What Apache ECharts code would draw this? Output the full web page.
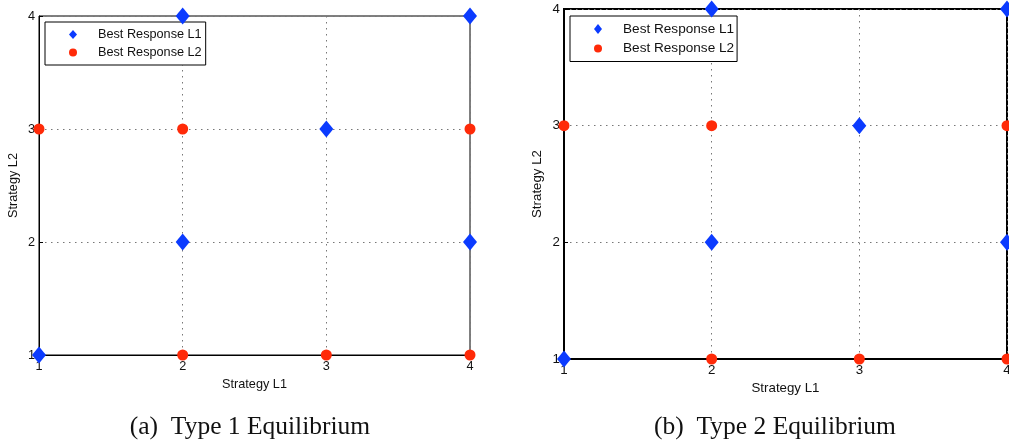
<!DOCTYPE html>
<html>
<head>
<meta charset="utf-8">
<script src="https://cdn.jsdelivr.net/npm/echarts@6/dist/echarts.min.js"></script>
<style>html,body{margin:0;padding:0;background:#fff}#c{width:1009px;height:446px}</style>
</head>
<body>
<div id="c"></div>
<script>
// Data
var tickValues = [1, 2, 3, 4];
var seriesNames = ['Best Response L1', 'Best Response L2'];
var captions = ['(a)  Type 1 Equilibrium', '(b)  Type 2 Equilibrium'];
var xAxisName = 'Strategy L1';
var yAxisName = 'Strategy L2';
// Type 1
var type1L1 = [[1, 1], [2, 4], [2, 2], [3, 3], [4, 4], [4, 2]];
var type1L2 = [[1, 3], [2, 3], [4, 3], [2, 1], [3, 1], [4, 1]];
// Type 2
var type2L1 = [[1, 1], [2, 4], [2, 2], [3, 3], [4, 4], [4, 2]];
var type2L2 = [[1, 3], [2, 3], [4, 3], [2, 1], [3, 1], [4, 1]];

var BLUE = '#0b3bff', RED = '#ff2a08';
var font = 'Liberation Sans, Arial, Helvetica, sans-serif';

function xAx(gi, gap, fs, lw) {
  return {
    gridIndex: gi, type: 'value', min: 1, max: 4, interval: 1,
    name: xAxisName, nameLocation: 'middle', nameGap: gap,
    nameTextStyle: {fontFamily: font, fontSize: fs, color: '#111'},
    axisLine: {show: true, lineStyle: {color: '#000', width: lw}},
    axisTick: {show: true, inside: true, length: 4, lineStyle: {color: '#000'}},
    axisLabel: {margin: 5, fontFamily: font, fontSize: fs, color: '#111',
      formatter: function (v) { return tickValues.indexOf(v) >= 0 ? String(v) : ''; }},
    splitLine: {show: true, lineStyle: {color: '#777', type: [1.5, 4.5], width: 1}}
  };
}
function yAx(gi, gap, fs, lw) {
  return {
    gridIndex: gi, type: 'value', min: 1, max: 4, interval: 1,
    name: yAxisName, nameLocation: 'middle', nameGap: gap, nameRotate: 90,
    nameTextStyle: {fontFamily: font, fontSize: fs, color: '#111'},
    axisLine: {show: true, lineStyle: {color: '#000', width: lw}},
    axisTick: {show: true, inside: true, length: 4, lineStyle: {color: '#000'}},
    axisLabel: {margin: 4, fontFamily: font, fontSize: fs, color: '#111',
      formatter: function (v) { return tickValues.indexOf(v) >= 0 ? String(v) : ''; }},
    splitLine: {show: true, lineStyle: {color: '#777', type: [1.5, 4.5], width: 1}}
  };
}
function legend(left, top, fs, ih, lh, gap, pad) {
  return {
    left: left, top: top, orient: 'vertical',
    data: [{name: seriesNames[0], icon: 'diamond'}, {name: seriesNames[1], icon: 'circle'}],
    itemWidth: 8, itemHeight: ih, itemGap: gap,
    padding: pad,
    borderColor: '#000', borderWidth: 1, backgroundColor: '#fff',
    selectedMode: false,
    textStyle: {fontFamily: font, fontSize: fs, lineHeight: lh, color: '#111', padding: [0, 0, 0, 16]}
  };
}
function sc(name, data, gi, isL1) {
  return {
    name: name, type: 'scatter', xAxisIndex: gi, yAxisIndex: gi, data: data,
    symbol: isL1 ? 'diamond' : 'circle',
    symbolSize: isL1 ? [14, 17] : 11,
    itemStyle: {color: isL1 ? BLUE : RED, opacity: 1},
    clip: false, z: 5
  };
}

var capStyle = {fontFamily: 'Liberation Serif, Times New Roman, serif', fontSize: 25.5, fontWeight: 'normal', color: '#111'};

var chart = echarts.init(document.getElementById('c'), null, {renderer: 'canvas'});
chart.setOption({
  animation: false,
  backgroundColor: '#fff',
  title: [
    {text: captions[0], left: 250, top: 414, textAlign: 'center', textStyle: capStyle, padding: 0},
    {text: captions[1], left: 775, top: 414, textAlign: 'center', textStyle: capStyle, padding: 0}
  ],
  legend: [legend(45, 22, 12.7, 9, 12, 5, [6, 4, 6, 24]), legend(570, 16, 13.6, 10, 13, 5.5, [6, 3, 6, 24])],
  grid: [
    {left: 39, top: 16, width: 431, height: 339, show: true, borderColor: '#000', borderWidth: 1, containLabel: false, outerBoundsMode: 'none'},
    {left: 564, top: 9, width: 443, height: 350, show: true, borderColor: '#000', borderWidth: 2, containLabel: false, outerBoundsMode: 'none'}
  ],
  xAxis: [xAx(0, 19, 12.7, 1), xAx(1, 22, 13.3, 2)],
  yAxis: [yAx(0, 19, 12.7, 1), yAx(1, 20, 13.3, 2)],
  series: [
    sc(seriesNames[0], type1L1, 0, true),
    sc(seriesNames[1], type1L2, 0, false),
    sc(seriesNames[0], type2L1, 1, true),
    sc(seriesNames[1], type2L2, 1, false)
  ]
});
</script>
</body>
</html>
